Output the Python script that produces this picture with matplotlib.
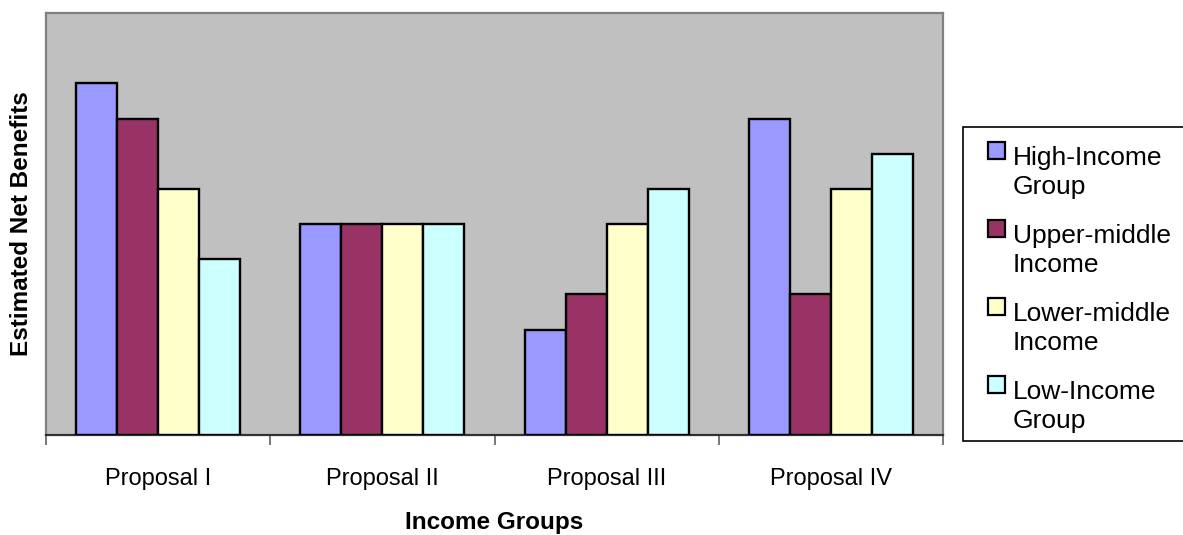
import numpy as np
import matplotlib
matplotlib.use("Agg")
import matplotlib.pyplot as plt
from matplotlib.patches import Rectangle

plt.rcParams['font.family'] = ['Liberation Sans', 'DejaVu Sans']

proposals = ['Proposal I', 'Proposal II', 'Proposal III', 'Proposal IV']
groups = ['High-Income\nGroup', 'Upper-middle\nIncome', 'Lower-middle\nIncome', 'Low-Income\nGroup']
high_income = [10, 6, 3, 9]
upper_middle = [9, 6, 4, 4]
lower_middle = [7, 6, 6, 7]
low_income = [5, 6, 7, 8]
colors = ['#9999FF', '#993366', '#FFFFCC', '#CCFFFF']

series = [high_income, upper_middle, lower_middle, low_income]

W, H = 1183, 535
fig = plt.figure(figsize=(W / 100, H / 100), dpi=100)
ax = fig.add_axes([46 / W, (H - 435) / H, (943 - 46) / W, (435 - 13) / H])
ax.set_facecolor('#C0C0C0')

x = np.arange(len(proposals)) + 0.5
bw = 0.183
for i, vals in enumerate(series):
    ax.bar(x + (i - 1.5) * bw, vals, bw, color=colors[i],
           edgecolor='black', linewidth=1.7, zorder=3)

ax.set_xlim(0, len(proposals))
ax.set_ylim(0, 12)
ax.set_yticks([])

# boundaries get tick marks, centres get the labels
ax.set_xticks(np.arange(len(proposals) + 1))
ax.set_xticklabels([])
ax.set_xticks(x, minor=True)
ax.set_xticklabels(proposals, minor=True, fontsize=17)
ax.tick_params(axis='x', which='major', length=7, width=1.2, color='#606060', direction='out')
ax.tick_params(axis='x', which='minor', length=0, pad=23.5)

for side in ['top', 'left', 'right']:
    ax.spines[side].set_color('#808080')
    ax.spines[side].set_linewidth(1.6)
ax.spines['bottom'].set_color('#303030')
ax.spines['bottom'].set_linewidth(1.6)

ax.set_xlabel('Income Groups', fontsize=17.5, fontweight='bold')
ax.xaxis.set_label_coords(0.5, -0.18)
ax.set_ylabel('Estimated Net Benefits', fontsize=17.5, fontweight='bold')
ax.yaxis.set_label_coords(-0.015, 0.5)

# legend box drawn by hand so the swatches sit on the first text line
fig.patches.append(Rectangle((963 / W, (H - 441) / H), (W + 10 - 963) / W, 314 / H,
                             transform=fig.transFigure, facecolor='white',
                             edgecolor='black', linewidth=1.2))
for i, (lab, col) in enumerate(zip(groups, colors)):
    top = 142 + 78 * i
    fig.patches.append(Rectangle((988 / W, (H - top - 17) / H), 17 / W, 17 / H,
                                 transform=fig.transFigure, facecolor=col,
                                 edgecolor='black', linewidth=1.6))
    fig.text(1013 / W, (H - top - 4) / H, lab, fontsize=19, va='top', ha='left',
             linespacing=1.27)

fig.savefig('out.png', dpi=100)
